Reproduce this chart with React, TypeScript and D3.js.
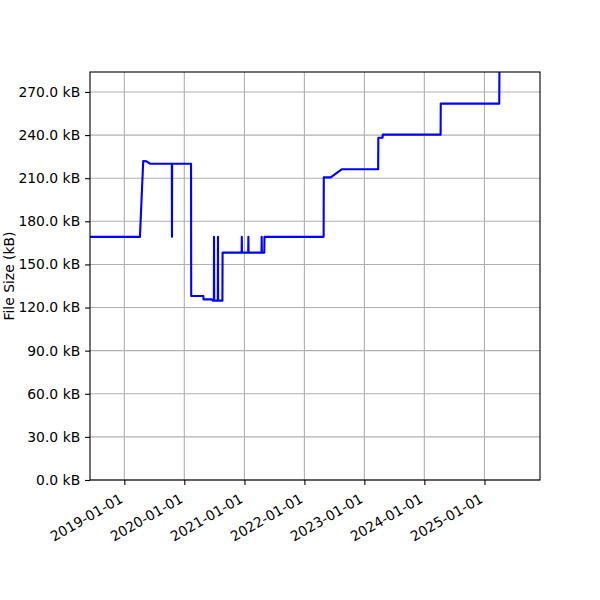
import React, { useEffect, useRef } from 'react';
import * as d3 from 'd3';

// commit dates of the file and its size in kB at that commit
const dates: string[] = [
  '2018-06-06', '2019-04-06', '2019-04-26', '2019-05-16', '2019-06-06',
  '2019-10-17', '2019-10-18', '2019-10-19', '2020-02-11', '2020-02-12',
  '2020-04-26', '2020-04-27', '2020-06-16', '2020-06-22', '2020-06-29',
  '2020-06-30', '2020-07-01', '2020-07-23', '2020-07-24', '2020-07-25',
  '2020-08-20', '2020-08-21', '2020-12-15', '2020-12-16', '2020-12-17',
  '2021-01-24', '2021-01-25', '2021-01-26', '2021-04-15', '2021-04-16',
  '2021-04-17', '2021-05-02', '2021-05-03', '2022-04-28', '2022-04-29',
  '2022-06-10', '2022-08-16', '2023-03-26', '2023-03-27', '2023-04-22',
  '2023-04-23', '2024-04-09', '2024-04-10', '2025-04-01', '2025-04-02',
];

const sizes: number[] = [
  169.2, 169.2, 222.0, 221.7, 220.1,
  220.1, 169.2, 220.1, 220.1, 128.0,
  128.0, 125.7, 125.7, 124.8, 124.8,
  169.2, 124.8, 124.8, 169.2, 124.8,
  124.8, 158.2, 158.2, 169.2, 158.2,
  158.2, 169.2, 158.2, 158.2, 169.2,
  158.2, 158.2, 169.2, 169.2, 210.6,
  210.6, 216.2, 216.2, 238.2, 238.2,
  240.3, 240.3, 261.9, 261.9, 283.9,
];

const xTickLabels: string[] = [
  '2019-01-01', '2020-01-01', '2021-01-01', '2022-01-01',
  '2023-01-01', '2024-01-01', '2025-01-01',
];

const yTicks: number[] = [0, 30, 60, 90, 120, 150, 180, 210, 240, 270];

const xDomain: string[] = ['2018-06-06', '2025-12-05'];
const yMax = 283.9;

const App: React.FC = () => {
  const chartRef = useRef<SVGSVGElement | null>(null);

  useEffect(() => {
    if (!chartRef.current) return;
    const svg = d3.select(chartRef.current);
    svg.selectAll('*').remove();

    const width = 600;
    const height = 600;
    const margin = { top: 72, right: 60, bottom: 120, left: 90 };
    const fontSize = 13.9;
    const font = 'DejaVu Sans, sans-serif';

    const parse = d3.utcParse('%Y-%m-%d');
    const data = dates.map((d, i) => ({ date: parse(d) as Date, size: sizes[i] }));

    const x = d3.scaleUtc()
      .domain(xDomain.map(d => parse(d) as Date))
      .range([margin.left, width - margin.right]);

    const y = d3.scaleLinear()
      .domain([0, yMax])
      .range([height - margin.bottom, margin.top]);

    svg.attr('width', width).attr('height', height);

    const xTicks = xTickLabels.map(d => parse(d) as Date);

    // grid
    svg.append('g')
      .selectAll('line')
      .data(xTicks)
      .enter().append('line')
      .attr('x1', d => x(d)).attr('x2', d => x(d))
      .attr('y1', margin.top).attr('y2', height - margin.bottom)
      .attr('stroke', '#b0b0b0').attr('stroke-width', 1.1);

    svg.append('g')
      .selectAll('line')
      .data(yTicks)
      .enter().append('line')
      .attr('x1', margin.left).attr('x2', width - margin.right)
      .attr('y1', d => y(d)).attr('y2', d => y(d))
      .attr('stroke', '#b0b0b0').attr('stroke-width', 1.1);

    // the file size line
    const clipId = 'plot-clip';
    svg.append('clipPath').attr('id', clipId)
      .append('rect')
      .attr('x', margin.left).attr('y', margin.top)
      .attr('width', width - margin.left - margin.right)
      .attr('height', height - margin.top - margin.bottom);

    const line = d3.line<{ date: Date; size: number }>()
      .x(d => x(d.date))
      .y(d => y(d.size));

    svg.append('path')
      .datum(data)
      .attr('clip-path', `url(#${clipId})`)
      .attr('fill', 'none')
      .attr('stroke', '#0000ff')
      .attr('stroke-width', 2.1)
      .attr('stroke-linejoin', 'round')
      .attr('d', line);

    // x axis
    const xAxis = svg.append('g')
      .attr('transform', `translate(0,${height - margin.bottom})`)
      .call(d3.axisBottom(x).tickValues(xTicks).tickFormat(d3.utcFormat('%Y-%m-%d') as any).tickSize(4.9).tickSizeOuter(0));
    xAxis.select('.domain').remove();
    xAxis.selectAll('.tick line').attr('stroke', '#000').attr('stroke-width', 1.1);
    xAxis.selectAll('.tick text')
      .attr('font-family', font)
      .attr('font-size', fontSize)
      .attr('fill', '#000')
      .attr('text-anchor', 'end')
      .attr('x', 0).attr('y', 0).attr('dy', null)
      .attr('transform', 'translate(-1,21.5) rotate(-30)');

    // y axis
    const yAxis = svg.append('g')
      .attr('transform', `translate(${margin.left},0)`)
      .call(d3.axisLeft(y).tickValues(yTicks).tickFormat(d => `${d3.format('.1f')(d as number)} kB`).tickSize(4.9).tickPadding(4.9));
    yAxis.select('.domain').remove();
    yAxis.selectAll('.tick line').attr('stroke', '#000').attr('stroke-width', 1.1);
    yAxis.selectAll('.tick text')
      .attr('font-family', font)
      .attr('font-size', fontSize)
      .attr('fill', '#000');

    // spines
    svg.append('rect')
      .attr('x', margin.left).attr('y', margin.top)
      .attr('width', width - margin.left - margin.right)
      .attr('height', height - margin.top - margin.bottom)
      .attr('fill', 'none')
      .attr('stroke', '#000')
      .attr('stroke-width', 1.1);

    svg.append('text')
      .attr('transform', `translate(13.5,${(margin.top + height - margin.bottom) / 2}) rotate(-90)`)
      .attr('text-anchor', 'middle')
      .attr('font-family', font)
      .attr('font-size', fontSize)
      .attr('fill', '#000')
      .text('File Size (kB)');
  }, []);

  return (
    <svg ref={chartRef} style={{ position: 'absolute', left: 0, top: 0, background: '#fff' }} />
  );
};

export default App;
